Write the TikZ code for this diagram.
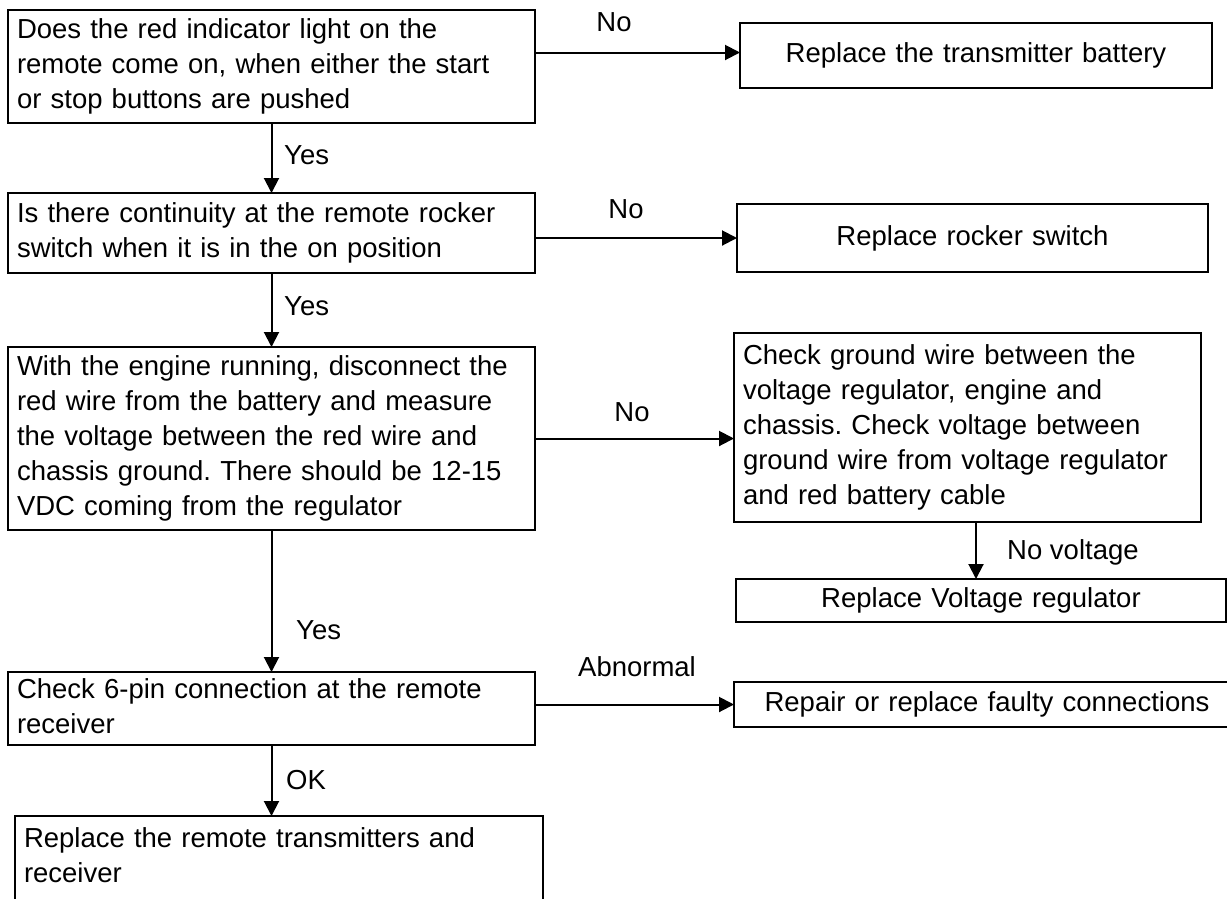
\documentclass[tikz,border=0pt]{standalone}
\usepackage{fontspec}
\setmainfont{Liberation Sans}
\usetikzlibrary{arrows.meta,calc}
\frenchspacing
\begin{document}
\begin{tikzpicture}[x=1pt,y=-1pt,
  txt/.style={font=\fontsize{27.5}{35}\selectfont},
  box/.style={txt,draw,line width=1.8pt,inner xsep=9pt,inner ysep=0pt,outer sep=0pt,anchor=north west},
  qbox/.style={box,align=left},
  abox/.style={box,align=center},
  arr/.style={line width=2pt,-{Triangle[length=15pt,width=15pt]}},
  lbl/.style={txt,inner sep=0pt}]
\useasboundingbox[fill=white] (0,0) rectangle (1227,898);
\clip (0,0) rectangle (1227,898);

% decision and check boxes (left column)
\node[qbox,text width=509pt,minimum height=113pt] (b1) at (8,10)
  {\strut Does the red indicator light on the\\\strut remote come on, when either the start\\\strut or stop buttons are pushed};
\node[qbox,text width=509pt,minimum height=80pt] (b3) at (8,193)
  {\strut Is there continuity at the remote rocker\\\strut switch when it is in the on position};
\node[qbox,text width=509pt,minimum height=183pt] (b5) at (8,347)
  {\strut With the engine running, disconnect the\\\strut red wire from the battery and measure\\\strut the voltage between the red wire and\\\strut chassis ground. There should be 12-15\\\strut VDC coming from the regulator};
\node[qbox,text width=509pt,minimum height=73pt] (b8) at (8,672)
  {\strut Check 6-pin connection at the remote\\\strut receiver};
\node[qbox,text width=510pt,inner ysep=7pt] (b10) at (15,816)
  {\strut Replace the remote transmitters and\\\strut receiver\\\strut};

% action boxes (right column)
\node[abox,text width=454pt,minimum height=65pt] (b2) at (740,23)
  {\strut Replace the transmitter battery};
\node[abox,text width=453pt,minimum height=68pt] (b4) at (737,204)
  {\strut Replace rocker switch};
\node[qbox,text width=449pt,minimum height=189pt] (b6) at (734,333)
  {\strut Check ground wire between the\\\strut voltage regulator, engine and\\\strut chassis. Check voltage between\\\strut ground wire from voltage regulator\\\strut and red battery cable};
\node[abox,text width=472pt,minimum height=43pt] (b7) at (736,579)
  {\strut Replace Voltage regulator};
\node[abox,text width=488pt,minimum height=45pt] (b9) at (734,682)
  {\strut Repair or replace faulty connections};

% connector end points that sit off the box centres
\coordinate (c1) at ($(b1.east |- b2.west)+(0,-3)$);
\coordinate (c2) at ($(b2.west)+(0,-3)$);
\coordinate (c6) at ($(b6.south)+(8.5,0)$);

% connectors
\draw[arr] (c1) -- (c2);
\draw[arr] (b1.south) -- (b3.north);
\draw[arr] (b3.east |- b4.west) -- (b4.west);
\draw[arr] (b3.south) -- (b5.north);
\draw[arr] (b5.east) -- (b5.east -| b6.west);
\draw[arr] (c6) -- (c6 |- b7.north);
\draw[arr] (b5.south) -- (b8.north);
\draw[arr] (b8.east |- b9.west) -- (b9.west);
\draw[arr] (b8.south) -- (b8.south |- b10.north);

% connector labels
\node[lbl] (l1) at (614,22) {No};
\node[lbl] (l2) at (626,209) {No};
\node[lbl] (l3) at (632,412) {No};
\node[lbl] (l4) at (637,667) {Abnormal};
\node[lbl,anchor=west] (l5) at (1007,552) {No voltage};
\node[lbl,anchor=west] (l6) at (284,155) {Yes};
\node[lbl,anchor=west] (l7) at (284,306) {Yes};
\node[lbl,anchor=west] (l8) at (296,630) {Yes};
\node[lbl,anchor=west] (l9) at (286,780) {OK};
\end{tikzpicture}
\end{document}
